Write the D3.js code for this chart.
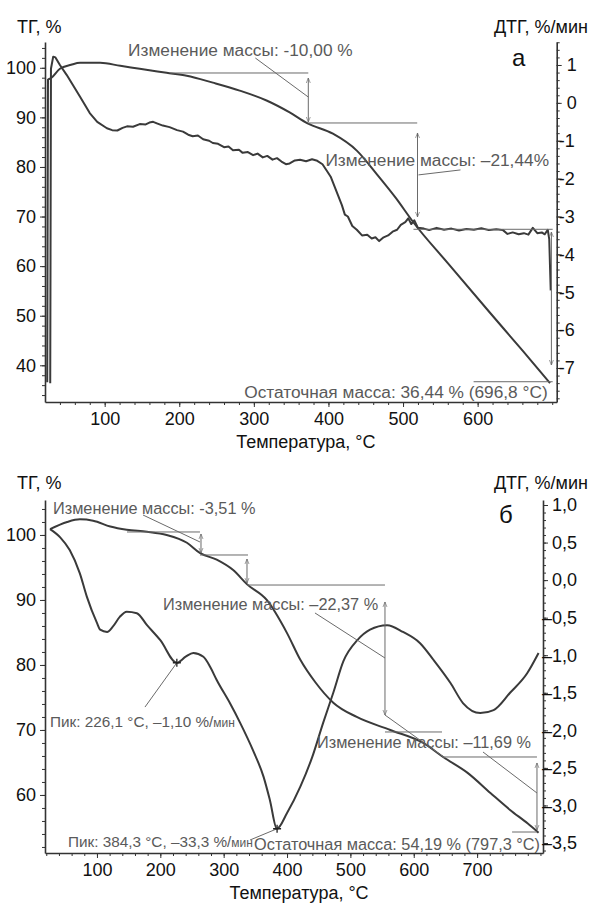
<!DOCTYPE html>
<html><head><meta charset="utf-8">
<script src="https://cdn.jsdelivr.net/npm/d3@7"></script>
<style>
body{margin:0;background:#fff}
svg{display:block}
text{font-family:"Liberation Sans",Arial,sans-serif}
</style>
</head><body>
<svg id="c" width="590" height="903"></svg>
<script>
// ---------- Panel a data ----------
const tgA_T = [23,24,28,40,55,67,94,121,147,183,210,245,281,317,348,372,406,438,465,490,514,560,616,660,697];
const tgA   = [36.6,97.6,97.9,99.8,100.6,101.0,101.0,100.4,99.8,99.0,98.4,97.0,95.4,93.4,91.0,88.8,86.7,83.3,78.5,73.8,68.8,60.6,50.7,43.0,36.4];
const dtgA_T = [27,28,31,34,40,49,58,67,75,80,90,103,110,117,124,130,138,147,155,160,165,170,178,187,197,205,212,218,225,232,240,245,252,260,266,272,280,285,292,299,305,312,318,325,331,337,343,348,355,362,370,378,385,392,398,403,408,413,418,422,426,432,438,445,452,458,463,468,474,480,486,492,497,503,507,511,515,520,528,535,545,555,565,575,585,595,605,615,625,634,640,647,655,662,668,674,680,686,690,694,696,697,698];
const dtgA   = [-7.4,0.9,1.22,1.2,1.0,0.74,0.45,0.16,-0.1,-0.27,-0.5,-0.67,-0.72,-0.73,-0.66,-0.62,-0.63,-0.56,-0.57,-0.52,-0.5,-0.54,-0.6,-0.64,-0.72,-0.76,-0.84,-0.88,-0.86,-0.96,-1.0,-1.06,-1.08,-1.17,-1.15,-1.25,-1.24,-1.32,-1.3,-1.38,-1.34,-1.44,-1.4,-1.5,-1.46,-1.55,-1.62,-1.6,-1.52,-1.5,-1.54,-1.49,-1.53,-1.62,-1.8,-1.95,-2.2,-2.45,-2.7,-2.95,-3.0,-3.25,-3.35,-3.5,-3.48,-3.58,-3.55,-3.65,-3.55,-3.5,-3.4,-3.35,-3.22,-3.15,-3.05,-3.2,-3.1,-3.3,-3.32,-3.36,-3.3,-3.35,-3.32,-3.37,-3.33,-3.35,-3.31,-3.36,-3.34,-3.36,-3.46,-3.42,-3.47,-3.44,-3.48,-3.3,-3.44,-3.42,-3.47,-3.35,-3.6,-4.3,-4.95];
const xTicksA = [100,200,300,400,500,600];
const yLTicksA = [40,50,60,70,80,90,100];
const yRTicksA = [1,0,-1,-2,-3,-4,-5,-6,-7];

// annotations of panel a (temperature, TG %)
const annA_lines = [[188,98.95,373,98.95],[302,101.97,373,94.1],[373,88.87,519,88.87],[520.7,78.4,577,79.4],[514,67.43,700.6,67.43],[594.6,36.69,700.6,36.69]];
const annA_arrows = [[373,97.94,89.07],[519.4,86.85,69.91],[698.9,66.88,40.06]];
const annA_text = [[131.4,102.28,"Изменение массы: -10,00 %","start"],[395.9,80.19,"Изменение массы: –21,44%","start"],[693.9,33.4,"Остаточная масса: 36,44 % (696,8 °C)","end"]];

// ---------- Panel b data ----------
const tgB_T = [26,53,73,94,121,147,179,210,242,263,289,315,337,368,400,421,445,473,510,563,615,647,685,721,752,780,797];
const tgB   = [100.9,102.0,102.4,102.2,101.3,100.8,100.5,100.0,98.8,97.2,96.2,94.6,92.4,90.0,84.9,80.8,77.3,74.2,72.0,70.0,68.0,65.8,63.4,60.3,57.7,55.6,54.2];
const dtgB_T = [26,42,57,73,84,100,105,116,125,136,147,163,179,200,226,240,252,268,279,289,310,326,346,363,373,384,400,421,440,457,473,489,511,531,558,583,610,631,658,678,705,726,752,779,797];
const dtgB   = [0.68,0.57,0.4,0.09,-0.22,-0.57,-0.66,-0.69,-0.62,-0.49,-0.42,-0.44,-0.6,-0.8,-1.1,-1.02,-0.97,-1.02,-1.16,-1.33,-1.64,-1.9,-2.26,-2.62,-2.93,-3.31,-3.1,-2.75,-2.35,-1.9,-1.5,-1.08,-0.8,-0.66,-0.6,-0.69,-0.84,-1.06,-1.37,-1.64,-1.77,-1.73,-1.5,-1.24,-0.97];
const xTicksB = [100,200,300,400,500,600,700];
const yLTicksB = [60,70,80,90,100];
const yRTicksB = [1.0,0.5,0.0,-0.5,-1.0,-1.5,-2.0,-2.5,-3.0,-3.5];

const annB_lines = [[147.4,100.46,262.6,100.46],[172.7,103.07,262.6,98.92],[262.6,96.92,338.4,96.92],[336.8,92.3,554.6,92.3],[444.1,88.0,554.6,81.07],[554.6,69.69,644.6,69.69],[554.6,72.3,649.3,65.69],[644.6,65.84,794.5,65.84],[709.3,66.61,794.5,60.3],[755.2,54.3,794.5,54.3]];
const annB_arrows = [[264.2,100.15,97.23],[336.8,96.3,92.6],[554.6,89.69,72.3],[794.5,64.92,54.61]];
const annB_text = [[30.6,103.23,"Изменение массы: -3,51 %","start"],[204.2,88.46,"Изменение массы: –22,37 %","start"],[447.3,67.22,"Изменение массы: –11,69 %","start"],[799.3,51.53,"Остаточная масса: 54,19 % (797,3 °C)","end"]];
// peaks on DTG (temperature, %/min)
const peaksB = [[226.1,-1.10],[384.3,-3.31]];
const peakLeadB = [[175.8,-1.69],[341.6,-3.46]];
const peakTextB = [[25.9,-1.955,"Пик: 226,1 °C, –1,10 %/"],[54.3,-3.553,"Пик: 384,3 °C, –33,3 %/"]];

// ---------- drawing ----------
const svg = d3.select("#c");
const CURVE = "#3a3a3a", ANN = "#6a6a6a", ANNTXT = "#5a5a5a";
const defs = svg.append("defs");
defs.append("marker").attr("id","ah").attr("viewBox","0 0 10 10").attr("refX",10).attr("refY",5)
  .attr("markerWidth",5).attr("markerHeight",6).attr("markerUnits","userSpaceOnUse").attr("orient","auto-start-reverse")
  .append("path").attr("d","M0,1 L10,5 L0,9").attr("fill","none").attr("stroke",ANN).attr("stroke-width",1.3);

function panel(o){
  const g = svg.append("g");
  const x = d3.scaleLinear().domain(o.xDom).range([o.left,o.right]);
  const yL = d3.scaleLinear().domain(o.yLDom).range([o.bottom,o.top]);
  const yR = d3.scaleLinear().domain(o.yRDom).range([o.bottom,o.top]);

  // minor ticks
  g.append("g").attr("transform",`translate(0,${o.bottom})`)
    .call(d3.axisBottom(x).tickValues(d3.range(o.xMinor[0],o.xDom[1],o.xMinor[1])).tickSize(3).tickFormat("").tickSizeOuter(0))
    .call(s=>s.select(".domain").remove()).selectAll("line").attr("stroke","#333");
  g.append("g").attr("transform",`translate(${o.left},0)`)
    .call(d3.axisLeft(yL).tickValues(d3.range(o.yLMinor[0],o.yLDom[1],o.yLMinor[1])).tickSize(3).tickFormat("").tickSizeOuter(0))
    .call(s=>s.select(".domain").remove()).selectAll("line").attr("stroke","#333");
  g.append("g").attr("transform",`translate(${o.right},0)`)
    .call(d3.axisRight(yR).tickValues(d3.range(o.yRMinor[0],o.yRDom[1],o.yRMinor[1])).tickSize(3).tickFormat("").tickSizeOuter(0))
    .call(s=>s.select(".domain").remove()).selectAll("line").attr("stroke","#333");

  // major axes
  const ax = g.append("g").attr("transform",`translate(0,${o.bottom})`)
    .call(d3.axisBottom(x).tickValues(o.xTicks).tickSize(5).tickSizeOuter(0).tickPadding(5));
  const ayl = g.append("g").attr("transform",`translate(${o.left},0)`)
    .call(d3.axisLeft(yL).tickValues(o.yLTicks).tickSize(5).tickSizeOuter(0).tickPadding(4));
  const ayr = g.append("g").attr("transform",`translate(${o.right},0)`)
    .call(d3.axisRight(yR).tickValues(o.yRTicks).tickSize(5).tickSizeOuter(0).tickFormat(""));
  [ax,ayl,ayr].forEach(a=>{
    a.select(".domain").attr("stroke","#333").attr("stroke-width",1.6);
    a.selectAll(".tick line").attr("stroke","#333");
    a.selectAll("text").attr("font-size",18).attr("fill","#111").attr("font-family",'"Liberation Sans",Arial,sans-serif');
  });
  // right tick labels: digits aligned, minus protruding
  g.append("g").selectAll("text").data(o.yRTicks).join("text")
    .attr("x",o.right+o.rLabelX).attr("y",d=>yR(d)).attr("dy","0.35em")
    .attr("font-size",18).attr("fill","#111")
    .attr("text-anchor","start")
    .attr("dx",d=>d<0?-o.minusW:0)
    .text(o.rFmt);

  // curves
  const lineL = d3.line().x(d=>x(d[0])).y(d=>yL(d[1])).curve(o.curveTG);
  const lineR = d3.line().x(d=>x(d[0])).y(d=>yR(d[1])).curve(o.curveDTG);
  g.append("path").datum(d3.zip(o.tgT,o.tg)).attr("d",lineL).attr("fill","none").attr("stroke",CURVE).attr("stroke-width",2).attr("stroke-linejoin","round");
  g.append("path").datum(d3.zip(o.dtgT,o.dtg)).attr("d",lineR).attr("fill","none").attr("stroke",CURVE).attr("stroke-width",2).attr("stroke-linejoin","round");

  // annotations
  g.append("g").selectAll("line").data(o.annLines).join("line")
    .attr("x1",d=>x(d[0])).attr("y1",d=>yL(d[1])).attr("x2",d=>x(d[2])).attr("y2",d=>yL(d[3]))
    .attr("stroke",ANN).attr("stroke-width",1);
  g.append("g").selectAll("line").data(o.annArrows).join("line")
    .attr("x1",d=>x(d[0])).attr("y1",d=>yL(d[1])).attr("x2",d=>x(d[0])).attr("y2",d=>yL(d[2]))
    .attr("stroke",ANN).attr("stroke-width",1)
    .attr("marker-start","url(#ah)").attr("marker-end","url(#ah)");
  g.append("g").selectAll("text").data(o.annText).join("text")
    .attr("x",d=>x(d[0])).attr("y",d=>yL(d[1])).attr("text-anchor",d=>d[3])
    .attr("font-size",o.annFs).attr("fill",ANNTXT).text(d=>d[2]);

  // titles
  g.append("text").attr("x",17).attr("y",o.titleY).attr("font-size",18).attr("fill","#111").text("ТГ, %");
  g.append("text").attr("x",588).attr("y",o.titleY).attr("text-anchor","end").attr("font-size",18).attr("fill","#111").text("ДТГ, %/мин");
  g.append("text").attr("x",o.letterX).attr("y",o.letterY).attr("font-size",24).attr("fill","#111").text(o.letter);
  g.append("text").attr("x",(o.left+o.right)/2+5).attr("y",o.xTitleY).attr("text-anchor","middle").attr("font-size",18).attr("fill","#111").text("Температура, °С");
  return {g,x,yL,yR};
}

// Panel a
panel({
  left:45,right:556.7,top:42,bottom:402,
  xDom:[20,706],yLDom:[32.6,105.2],yRDom:[-7.898,1.607],
  xMinor:[40,20],yLMinor:[34,2],yRMinor:[-7.8,0.2],
  xTicks:xTicksA,yLTicks:yLTicksA,yRTicks:yRTicksA,
  rLabelX:10,minusW:8,rFmt:d=>d<0?"-"+Math.abs(d):String(d),
  tgT:tgA_T,tg:tgA,dtgT:dtgA_T,dtg:dtgA,curveTG:d3.curveMonotoneX,curveDTG:d3.curveLinear,
  annLines:annA_lines,annArrows:annA_arrows,annText:annA_text,annFs:17.3,
  titleY:33,letter:"а",letterX:512,letterY:66,xTitleY:448
});

// Panel b
const pb = panel({
  left:45,right:543,top:500,bottom:853,
  xDom:[18,804],yLDom:[51.07,105.38],yRDom:[-3.633,1.0667],
  xMinor:[20,20],yLMinor:[52,2],yRMinor:[-3.6,0.1],
  xTicks:xTicksB,yLTicks:yLTicksB,yRTicks:yRTicksB,
  rLabelX:9,minusW:10,rFmt:d=>(d<0?"–":"")+Math.abs(d).toFixed(1).replace(".",","),
  tgT:tgB_T,tg:tgB,dtgT:dtgB_T,dtg:dtgB,curveTG:d3.curveMonotoneX,curveDTG:d3.curveMonotoneX,
  annLines:annB_lines,annArrows:annB_arrows,annText:annB_text,annFs:16.3,
  titleY:489,letter:"б",letterX:499,letterY:523,xTitleY:899
});
// peak leaders, markers and labels (DTG axis)
pb.g.append("g").selectAll("line").data(d3.zip(peakLeadB,peaksB)).join("line")
  .attr("x1",d=>pb.x(d[0][0])).attr("y1",d=>pb.yR(d[0][1])).attr("x2",d=>pb.x(d[1][0])).attr("y2",d=>pb.yR(d[1][1]))
  .attr("stroke",ANN).attr("stroke-width",1);
pb.g.append("g").selectAll("path").data(peaksB).join("path")
  .attr("d",d=>{const cx=pb.x(d[0]),cy=pb.yR(d[1]);return `M${cx-4},${cy}H${cx+4}M${cx},${cy-4}V${cy+4}`;})
  .attr("stroke","#222").attr("stroke-width",1.3);
const pt = pb.g.append("g").selectAll("text").data(peakTextB).join("text")
  .attr("x",d=>pb.x(d[0])).attr("y",d=>pb.yR(d[1])).attr("font-size",15.3).attr("fill",ANNTXT);
pt.append("tspan").text(d=>d[2]);
pt.append("tspan").attr("font-size",12).text("мин");
</script>
</body></html>
